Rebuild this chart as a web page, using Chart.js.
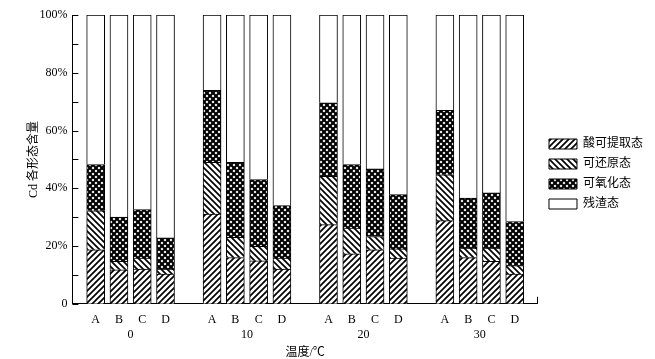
<!DOCTYPE html>
<html><head><meta charset="utf-8">
<script src="https://cdn.jsdelivr.net/npm/chart.js@4/dist/chart.umd.min.js"></script>
<style>html,body{margin:0;padding:0;background:#fff;}#wrap{width:655px;height:359px;}</style>
</head><body><div id="wrap"><canvas id="c" width="655" height="359"></canvas></div>
<script>
const treatments = ['A', 'B', 'C', 'D'];
const temperatures = ['0', '10', '20', '30'];
const seriesNames = ['酸可提取态', '可还原态', '可氧化态', '残渣态'];
const acidExtractable = [18.7, 11.8, 12.0, 10.3, 31.1, 16.0, 14.9, 12.0, 27.4, 17.3, 18.7, 15.8, 28.8, 16.0, 14.7, 10.3];
const reducible = [13.5, 2.9, 3.8, 1.7, 17.9, 7.0, 5.0, 3.8, 16.7, 8.9, 4.6, 3.2, 15.9, 3.3, 4.6, 2.9];
const oxidizable = [16.0, 15.3, 16.8, 10.8, 24.9, 26.0, 23.1, 18.2, 25.5, 22.0, 23.4, 18.8, 22.3, 17.3, 19.1, 15.3];
const residual = [51.8, 70.0, 67.4, 77.2, 26.1, 51.0, 57.0, 66.0, 30.4, 51.8, 53.3, 62.2, 33.0, 63.4, 61.6, 71.5];
const yTickValues = [0, 20, 40, 60, 80, 100];
const yMinorStep = 10;
const xAxisTitle = '温度/℃';
const yAxisTitle = 'Cd 各形态含量';

const SERIF = "'Liberation Serif', 'Noto Sans CJK SC', serif";
const groupSize = treatments.length;
const slotsPerGroup = groupSize + 1;
const slotOf = i => Math.floor(i / groupSize) * slotsPerGroup + (i % groupSize) + 1;
const xMax = temperatures.length * slotsPerGroup;
const barSlots = acidExtractable.map((_, i) => slotOf(i));
const groupCenters = temperatures.map((_, g) => g * slotsPerGroup + (groupSize + 1) / 2);
const xTickValues = barSlots.concat(groupCenters).sort((a, b) => a - b);

function makePattern(kind) {
  const s = 6;
  const c = document.createElement('canvas');
  c.width = s; c.height = s;
  const g = c.getContext('2d');
  g.fillStyle = '#fff';
  g.fillRect(0, 0, s, s);
  if (kind === 'none') return '#ffffff';
  g.strokeStyle = '#000';
  g.lineWidth = kind === 'cross' ? 2.1 : 1.7;
  const fwd = () => { g.beginPath(); g.moveTo(-1, s + 1); g.lineTo(s + 1, -1); g.moveTo(-2, 2); g.lineTo(2, -2); g.moveTo(s - 2, s + 2); g.lineTo(s + 2, s - 2); g.stroke(); };
  const back = () => { g.beginPath(); g.moveTo(-1, -1); g.lineTo(s + 1, s + 1); g.moveTo(-2, s - 2); g.lineTo(2, s + 2); g.moveTo(s - 2, -2); g.lineTo(s + 2, 2); g.stroke(); };
  if (kind === 'fwd' || kind === 'cross') fwd();
  if (kind === 'back' || kind === 'cross') back();
  return g.createPattern(c, 'repeat');
}

const seriesValues = [acidExtractable, reducible, oxidizable, residual];
const patternKinds = ['fwd', 'back', 'cross', 'none'];

const datasets = seriesValues.map((vals, k) => ({
  label: seriesNames[k],
  data: vals.map((v, i) => ({ x: barSlots[i], y: v })),
  backgroundColor: makePattern(patternKinds[k]),
  borderColor: '#000',
  borderWidth: 1,
  barThickness: 18,
  stack: 's'
}));

const inwardTicks = {
  id: 'inwardTicks',
  afterDraw(chart) {
    const { ctx, scales: { x, y } } = chart;
    ctx.save();
    ctx.strokeStyle = '#000';
    ctx.lineWidth = 1;
    ctx.beginPath();
    for (let v = y.min; v <= y.max; v += yMinorStep) {
      const py = Math.round(y.getPixelForValue(v)) + 0.5;
      ctx.moveTo(y.right, py);
      ctx.lineTo(y.right + 6, py);
    }
    const px = Math.round(x.getPixelForValue(x.max)) - 0.5;
    ctx.moveTo(px, x.top);
    ctx.lineTo(px, x.top - 7);
    ctx.stroke();
    ctx.restore();
  }
};

const legendNudge = {
  id: 'legendNudge',
  afterLayout(chart) {
    const lg = chart.legend;
    if (!lg) return;
    lg.left += 3; lg.right += 3;
    lg.top -= 13; lg.bottom -= 13;
  }
};

new Chart(document.getElementById('c'), {
  type: 'bar',
  data: { datasets },
  plugins: [inwardTicks, legendNudge],
  options: {
    responsive: false,
    animation: false,
    events: [],
    layout: { padding: { left: 19, top: 15, right: 5, bottom: 0 } },
    plugins: {
      tooltip: { enabled: false },
      legend: {
        position: 'right',
        align: 'center',
        labels: {
          boxWidth: 28, boxHeight: 10, padding: 8, color: '#000',
          font: { family: SERIF, size: 12 }
        }
      }
    },
    scales: {
      x: {
        type: 'linear', min: 0, max: xMax, stacked: true, offset: false,
        grid: { display: false, drawTicks: false },
        border: { display: true, color: '#000', width: 1 },
        afterBuildTicks: s => { s.ticks = xTickValues.map(v => ({ value: v })); },
        ticks: {
          autoSkip: false, maxRotation: 0, padding: 9, color: '#000',
          font: { family: SERIF, size: 12 },
          callback: (v) => {
            const i = barSlots.indexOf(v);
            if (i >= 0) return treatments[i % groupSize];
            const g = groupCenters.indexOf(v);
            return g >= 0 ? ['', temperatures[g]] : '';
          }
        },
        title: { display: true, text: xAxisTitle, color: '#000', font: { family: SERIF, size: 12 }, padding: { top: -5, bottom: -1 } }
      },
      y: {
        min: 0, max: 100, stacked: true,
        grid: { display: false, drawTicks: false },
        border: { display: true, color: '#000', width: 1 },
        afterBuildTicks: s => { s.ticks = yTickValues.map(v => ({ value: v })); },
        ticks: {
          padding: 5, color: '#000', font: { family: SERIF, size: 12 },
          callback: v => v === 0 ? '0' : v + '%'
        },
        title: { display: true, text: yAxisTitle, color: '#000', font: { family: SERIF, size: 12 }, padding: { top: 8, bottom: -7 } }
      }
    }
  }
});
</script></body></html>
